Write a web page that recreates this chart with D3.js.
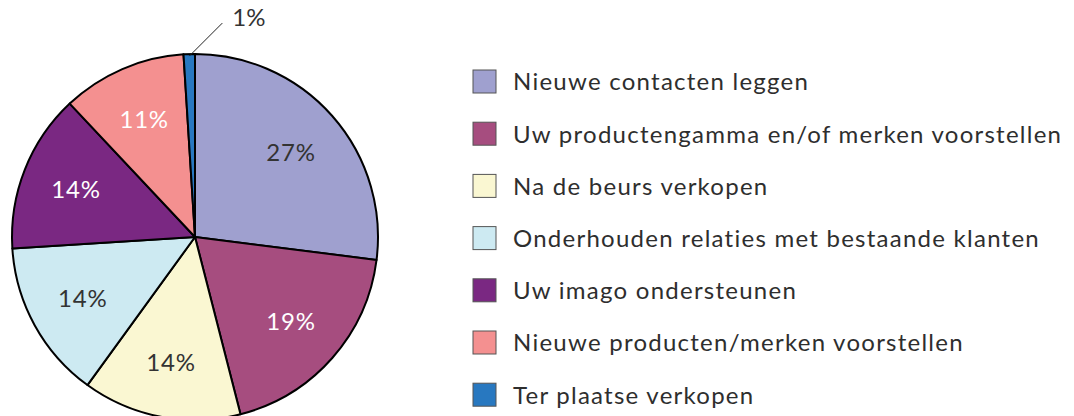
<!DOCTYPE html>
<html><head><meta charset="utf-8">
<script src="https://cdn.jsdelivr.net/npm/d3@7"></script>
<style>body{margin:0;background:#fff}svg{display:block}</style>
</head><body>
<script>
const categories = ["Nieuwe contacten leggen","Uw productengamma en/of merken voorstellen","Na de beurs verkopen","Onderhouden relaties met bestaande klanten","Uw imago ondersteunen","Nieuwe producten/merken voorstellen","Ter plaatse verkopen"];
const values = [27,19,14,14,14,11,1];
const labels = ["27%","19%","14%","14%","14%","11%","1%"];
const colors = ["#9fa0cf","#a64d7f","#faf7d2","#cdeaf2","#7a2882","#f49090","#2878c0"];
const labelColors = ["#333","#fff","#333","#333","#fff","#fff","#333"];

const W=1074,H=416, cx=195, cy=237, R=183;
const font = "Lato, 'Open Sans', sans-serif";
const svg = d3.select("body").append("svg").attr("width",W).attr("height",H);
const pie = d3.pie().sort(null).value(d=>d)(values);
const arc = d3.arc().innerRadius(0).outerRadius(R);
const labArc = d3.arc().innerRadius(128).outerRadius(128);
const g = svg.append("g").attr("transform",`translate(${cx},${cy})`);
g.selectAll("path").data(pie).join("path").attr("d",arc)
  .attr("fill",(d,i)=>colors[i]).attr("stroke","#000").attr("stroke-width",2).attr("stroke-linejoin","round");
g.selectAll("text.lab").data(pie.filter(d=>d.index<6)).join("text").attr("class","lab")
  .attr("transform",d=>`translate(${labArc.centroid(d)})`)
  .attr("text-anchor","middle").attr("dy","0.35em")
  .attr("font-family",font).attr("letter-spacing",0.8).attr("font-size",24).attr("fill",d=>labelColors[d.index])
  .text(d=>labels[d.index]);
// small slice leader
const last = pie[6];
const mid = (last.startAngle+last.endAngle)/2;
const p0 = [Math.sin(mid)*(R-2), -Math.cos(mid)*(R-2)];
const p1 = [p0[0]+33, p0[1]-33];
g.append("line").attr("x1",p0[0]).attr("y1",p0[1]).attr("x2",p1[0]).attr("y2",p1[1]).attr("stroke","#222").attr("stroke-width",1);
g.append("text").attr("x",p1[0]+10).attr("y",p1[1]+3).attr("font-family",font).attr("font-size",24).attr("fill","#333").text(labels[6]);

const leg = svg.append("g").attr("transform","translate(473,70)");
const row = leg.selectAll("g").data(categories).join("g").attr("transform",(d,i)=>`translate(0,${i*52.2})`);
row.append("rect").attr("width",23).attr("height",23).attr("fill",(d,i)=>colors[i]).attr("stroke","#555").attr("stroke-width",1);
row.append("text").attr("x",40).attr("y",12).attr("dy","0.35em").attr("font-family",font).attr("letter-spacing",1.25).attr("font-size",24).attr("fill","#2e2e2e").text(d=>d);
</script>
</body></html>
